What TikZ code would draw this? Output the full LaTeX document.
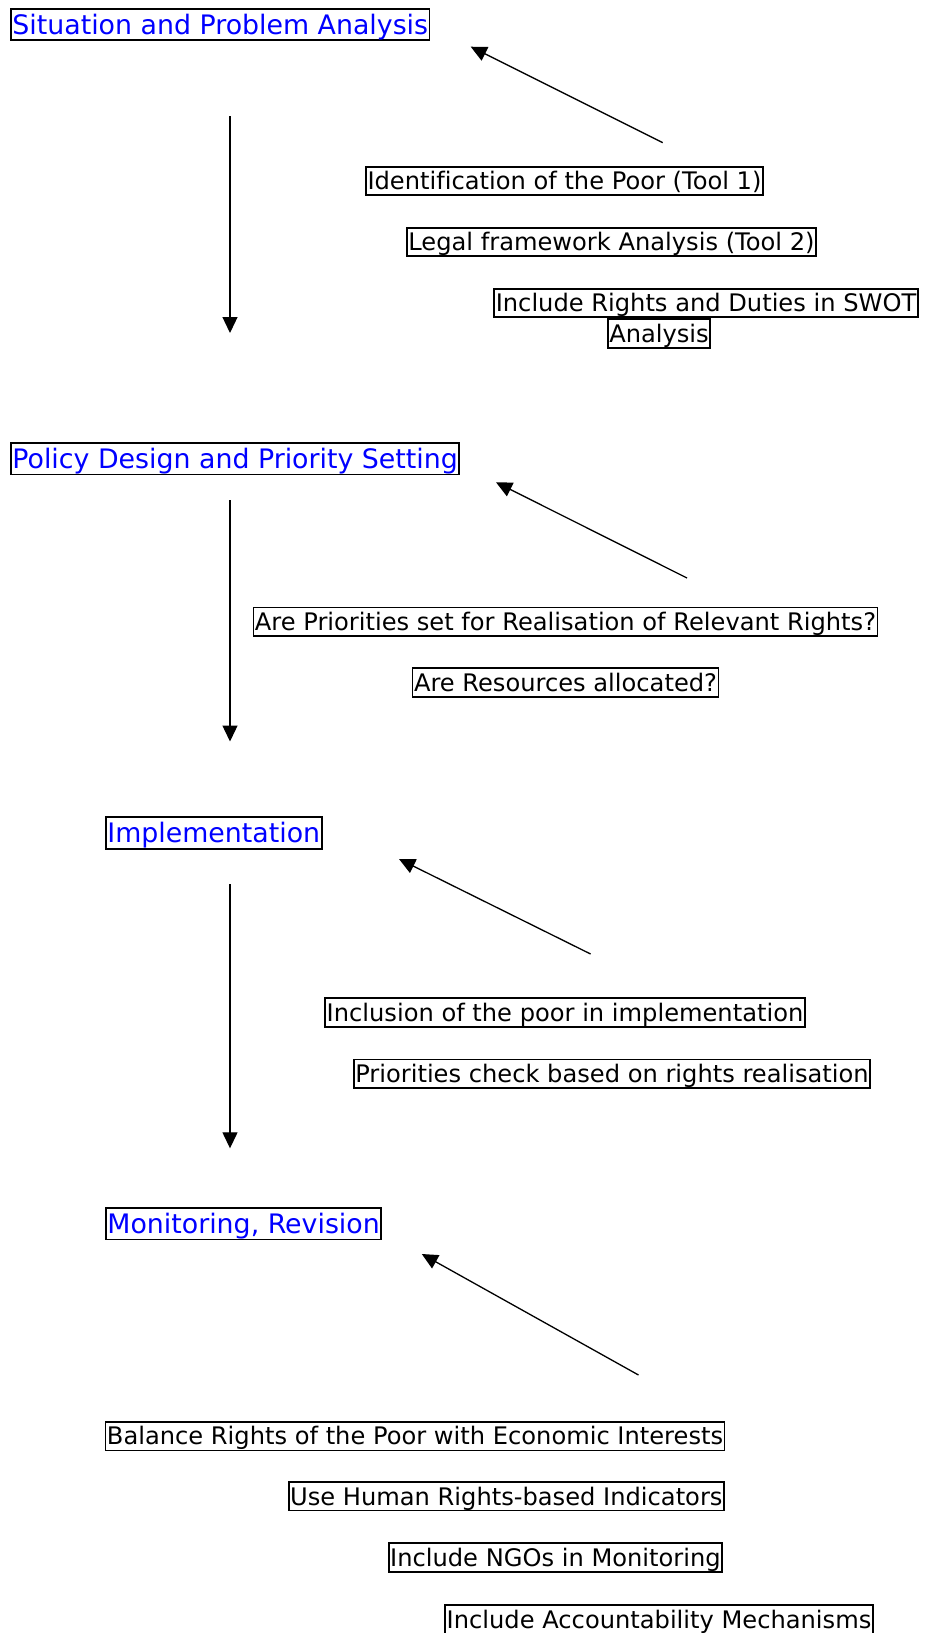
\documentclass[tikz,border=0pt]{standalone}
\usepackage{fontspec}
\setmainfont[Ligatures={NoCommon}]{DejaVu Sans}
\usetikzlibrary{arrows.meta}
\begin{document}
\begin{tikzpicture}[x=1pt,y=-1pt,
  stage/.style={draw=black, line width=1.8pt, text=blue, font=\fontsize{26.8}{31}\selectfont, inner xsep=1.5pt, inner ysep=1pt, text height=24.5pt, text depth=5pt, anchor=west},
  item/.style={draw=black, line width=1.8pt, text=black, font=\fontsize{24.15}{29}\selectfont, inner xsep=1.5pt, inner ysep=1pt, text height=22pt, text depth=4.5pt},
  flow/.style={line width=1.3pt, -{Triangle[length=16pt,width=15pt]}}
]
\useasboundingbox (0,0) rectangle (926,1633);
\fill[white] (0,0) rectangle (926,1633);
\clip (0,0) rectangle (926,1633);

% stages
\node[stage] (s1) at (10,24.5) {Situation and Problem Analysis};
\node[stage] (s2) at (10,458.8) {Policy Design and Priority Setting};
\node[stage] (s3) at (105,833) {Implementation};
\node[stage] (s4) at (105,1223.8) {Monitoring, Revision};

% items
\node[item] (i1) at (564.5,181) {Identification of the Poor (Tool 1)};
\node[item] (i2) at (611.5,242) {Legal framework Analysis (Tool 2)};
\node[item] (i3) at (706,302.9) {Include Rights and Duties in SWOT};
\node[item] (i3b) at (659,333.5) {Analysis};
\node[item] (p1) at (565.5,621.8) {Are Priorities set for Realisation of Relevant Rights?};
\node[item] (p2) at (565.5,682.5) {Are Resources allocated?};
\node[item] (m1) at (565,1012.5) {Inclusion of the poor in implementation};
\node[item] (m2) at (612,1073.8) {Priorities check based on rights realisation};
\node[item] (r1) at (415,1436.2) {Balance Rights of the Poor with Economic Interests};
\node[item] (r2) at (506.3,1496.3) {Use Human Rights-based Indicators};
\node[item] (r3) at (555.4,1557.5) {Include NGOs in Monitoring};
\node[item] (r4) at (659,1619.5) {Include Accountability Mechanisms};

% arrow ends
\coordinate (v1a) at (230,116);
\coordinate (v1b) at (230,333);
\coordinate (v2a) at (230,500);
\coordinate (v2b) at (230,741.5);
\coordinate (v3a) at (230,884.3);
\coordinate (v3b) at (230,1148.3);
\coordinate (d1a) at (662.7,142.7);
\coordinate (d1b) at (470.7,46.7);
\coordinate (d2a) at (687,578);
\coordinate (d2b) at (496,482.3);
\coordinate (d3a) at (590.6,954);
\coordinate (d3b) at (399,859);
\coordinate (d4a) at (638.5,1375);
\coordinate (d4b) at (421.8,1254);

\draw[flow] (v1a) -- (v1b);
\draw[flow] (v2a) -- (v2b);
\draw[flow] (v3a) -- (v3b);
\draw[flow] (d1a) -- (d1b);
\draw[flow] (d2a) -- (d2b);
\draw[flow] (d3a) -- (d3b);
\draw[flow] (d4a) -- (d4b);
\end{tikzpicture}
\end{document}
